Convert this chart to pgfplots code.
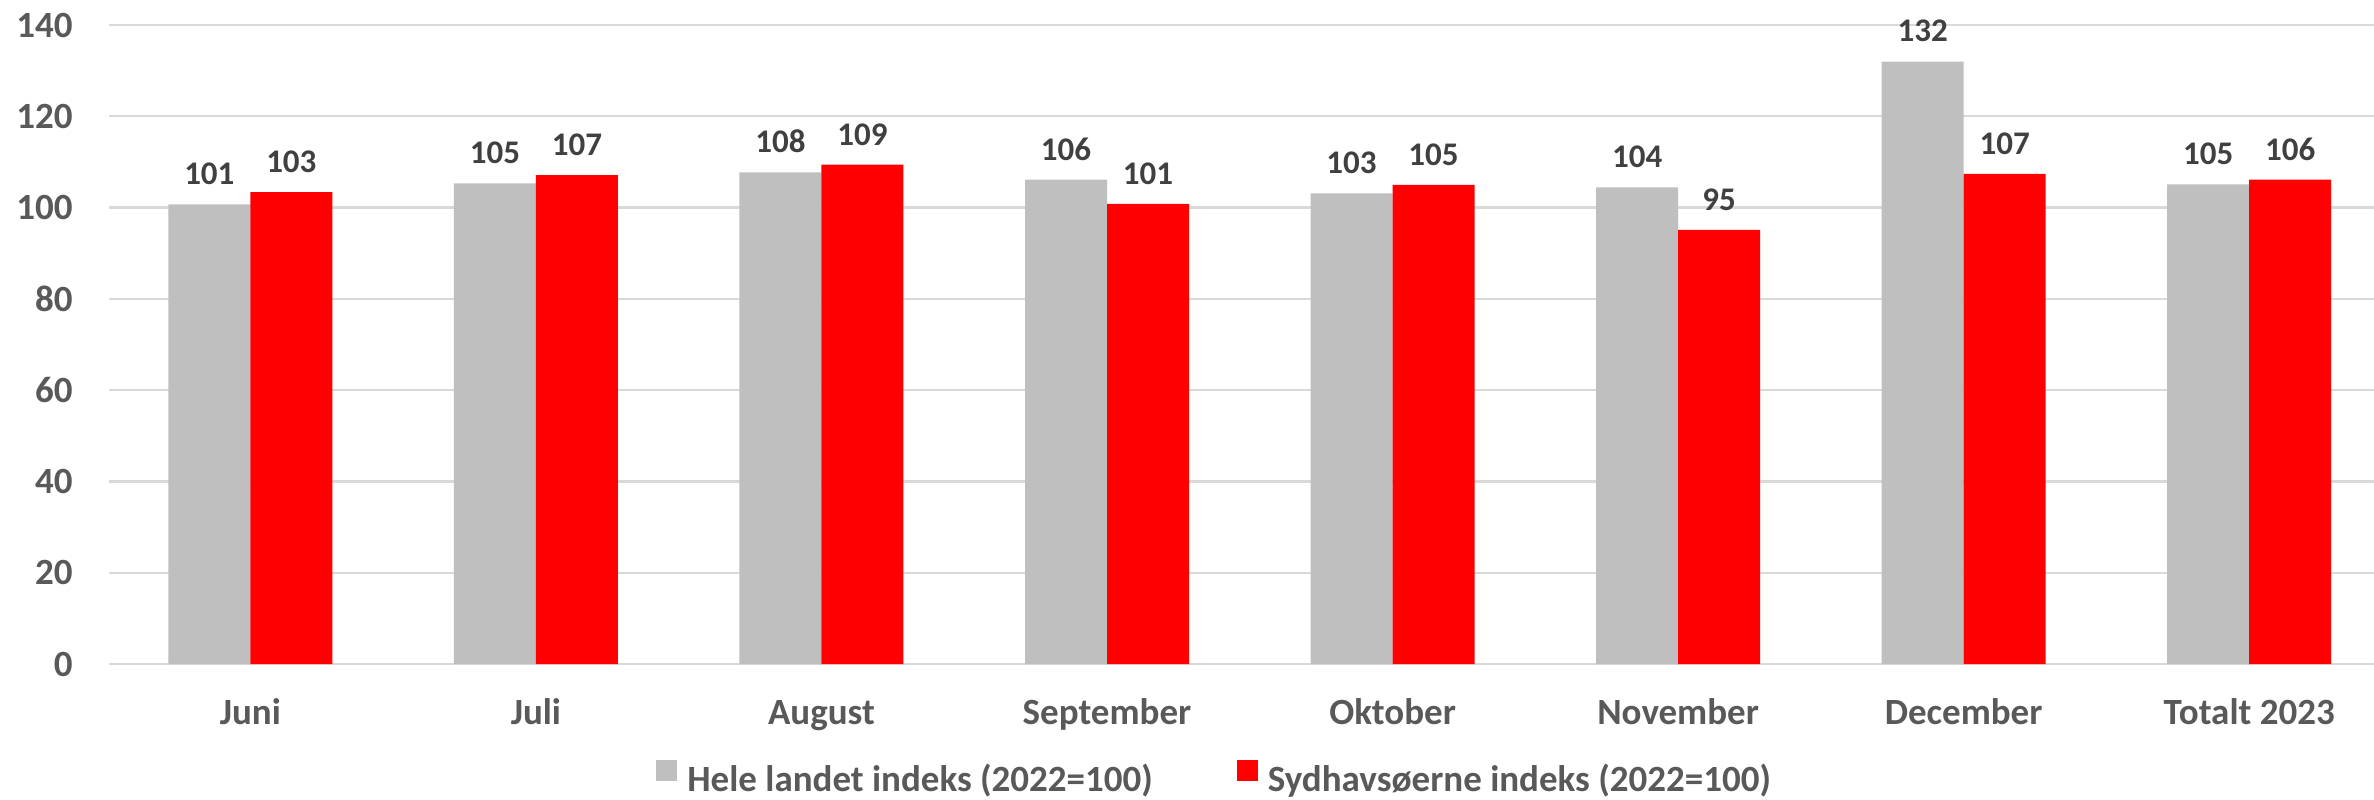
\documentclass[border=0pt]{standalone}
\usepackage{pgfplots}
\pgfplotsset{compat=1.18}
\usepackage{fontspec}
\setmainfont{Carlito}
\definecolor{barGray}{HTML}{BFBFBF}
\definecolor{barRed}{HTML}{FF0000}
\definecolor{gridC}{HTML}{D9D9D9}
\definecolor{txt}{HTML}{595959}
\definecolor{lbl}{HTML}{404040}
\begin{document}
\begin{tikzpicture}
\useasboundingbox (-54.5pt,-67.5pt) rectangle (1132.5pt,332pt);
\begin{axis}[
  scale only axis, width=1132.5pt, height=319.5pt,
  xmin=-0.495, xmax=7.437, ymin=0, ymax=140,
  ytick={0,20,...,140},
  xtick={0,...,7},
  xticklabels={Juni,Juli,August,September,Oktober,November,December,Totalt 2023},
  /pgf/number format/assume math mode=true,
  axis line style={draw=none},
  major tick length=0pt,
  ymajorgrids, grid style={gridC, line width=1.2pt},
  ybar=0pt, bar width=41pt,
  tick label style={font=\fontsize{18.5}{22}\selectfont\bfseries, text=txt},
  yticklabel style={anchor=east, inner sep=0pt, xshift=-18pt},
  xticklabel style={anchor=base, inner sep=0pt, yshift=-30pt},
  nodes near coords={\pgfmathprintnumber[fixed,precision=0,assume math mode=true]{\pgfplotspointmeta}},
  every node near coord/.append style={font=\fontsize{16.5}{20}\selectfont\bfseries, text=lbl, inner sep=0pt, yshift=9.5pt},
  legend columns=2,
  legend style={draw=none, fill=none, inner sep=0pt, at={(0.2415,-0.1772)}, anchor=west,
    font=\fontsize{18.5}{22}\selectfont\bfseries, text=txt,
    /tikz/every even column/.append style={column sep=42pt},
    /tikz/every odd column/.append style={column sep=5pt},
    nodes={inner sep=0pt}},
  legend image code/.code={\fill[#1] (0pt,-1pt) rectangle (10.5pt,9.5pt);},
]
\addplot[fill=barGray, draw=none] coordinates {(0,100.7) (1,105.3) (2,107.7) (3,106.1) (4,103.1) (5,104.4) (6,132.0) (7,105.1)};
\addplot[fill=barRed, draw=none] coordinates {(0,103.4) (1,107.1) (2,109.4) (3,100.8) (4,105.0) (5,95.1) (6,107.4) (7,106.1)};
\legend{Hele landet indeks (2022=100), Sydhavsøerne indeks (2022=100)}
\end{axis}
\end{tikzpicture}
\end{document}
